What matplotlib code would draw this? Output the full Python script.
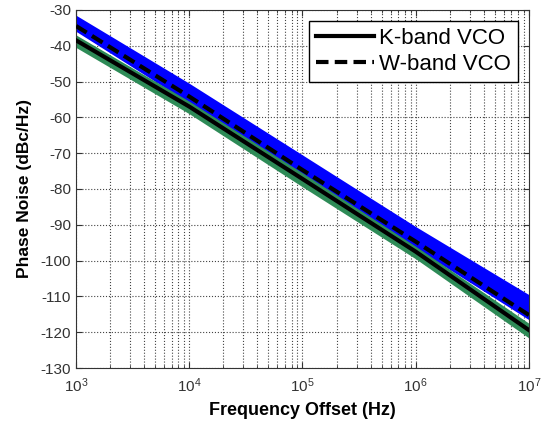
import numpy as np
import matplotlib
matplotlib.use('Agg')
import matplotlib.pyplot as plt
from matplotlib.ticker import LogLocator, NullFormatter

plt.rcParams['font.family'] = ['Liberation Sans', 'DejaVu Sans']
plt.rcParams['mathtext.default'] = 'regular'
plt.rcParams['axes.unicode_minus'] = False

# values (decade points)
freq = [1e3, 1e4, 1e5, 1e6, 1e7]
k_mid = [-38.5, -57.0, -77.2, -97.5, -119.4]
k_lo = [-40.5, -59.0, -79.4, -99.5, -121.6]
k_hi = [-37.0, -55.5, -75.5, -96.0, -117.5]
w_mid = [-34.5, -54.2, -74.7, -94.7, -115.2]
w_hi = [-31.5, -50.5, -70.5, -90.5, -109.5]
w_lo = [-36.0, -56.0, -76.5, -96.5, -116.5]

fig = plt.figure(figsize=(5.47, 4.29), dpi=100)
ax = fig.add_axes([0.139, 0.142, 0.828, 0.835])

ax.fill_between(freq, w_lo, w_hi, color='#0000ff', lw=0, zorder=2)
ax.fill_between(freq, k_lo, k_hi, color='#2e8b57', lw=0, zorder=2)
ax.plot(freq, k_mid, color='black', lw=3, label='K-band VCO', zorder=3)
ax.plot(freq, w_mid, color='black', lw=3, ls=(0, (3, 1.5)), label='W-band VCO', zorder=3)

ax.set_xscale('log')
ax.set_xlim(1e3, 1e7)
ax.set_ylim(-130, -30)
ax.set_yticks(np.arange(-130, -29, 10))
ax.xaxis.set_minor_locator(LogLocator(base=10, subs=np.arange(2, 10)))
ax.xaxis.set_minor_formatter(NullFormatter())

ax.grid(True, which='major', axis='both', ls=':', color='#444444', lw=0.8)
ax.grid(True, which='minor', axis='x', ls=':', color='#444444', lw=0.8)
ax.tick_params(which='both', direction='in', top=True, right=True, labelsize=11, colors='#333333')
ax.tick_params(axis='x', pad=6)
ax.tick_params(which='major', length=4)
ax.tick_params(which='minor', length=2)
for s in ax.spines.values():
    s.set_color('#333333')

ax.set_xlabel('Frequency Offset (Hz)', fontsize=13, fontweight='bold', labelpad=5)
ax.set_ylabel('Phase Noise (dBc/Hz)', fontsize=12.5, fontweight='bold', labelpad=6)

leg = ax.legend(loc='upper right', fontsize=16, fancybox=False, framealpha=1,
                edgecolor='black', handlelength=2.6, handletextpad=0.25,
                borderpad=0.3, labelspacing=0.25, borderaxespad=0.5)
leg.get_frame().set_linewidth(1.0)

fig.savefig('out.png', dpi=100)
